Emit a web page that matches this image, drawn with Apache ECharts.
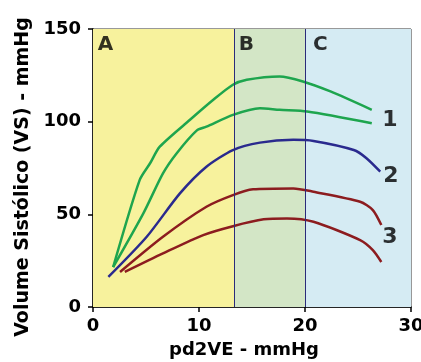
<!DOCTYPE html>
<html><head><meta charset="utf-8">
<script src="https://cdn.jsdelivr.net/npm/echarts@6/dist/echarts.min.js"></script>
<style>html,body{margin:0;padding:0;background:#fff}#c{width:421px;height:362px}</style>
</head><body><div id="c"></div>
<script>
const xTicks = [0, 10, 20, 30];
const yTicks = [0, 50, 100, 150];
const zones = [
  {name: 'A', from: 0, to: 13.3},
  {name: 'B', from: 13.3, to: 20},
  {name: 'C', from: 20, to: 30}
];
const green1 = [[1.9,21.5],[4.4,68.5],[5.4,77.7],[6.3,86.5],[9.15,101],[11.35,111.8],[13.2,119.9],[14.5,122.6],[17.6,124.4],[19.8,121.7],[22.4,116.3],[26.3,106.4]];
const green2 = [[1.9,21.5],[4.75,50.5],[6.6,72.1],[7.9,83],[9.8,95.3],[10.7,97.3],[13.2,103.7],[15.75,107.3],[17.6,106.4],[20.2,105.5],[26.3,99.2]];
const blue2 = [[1.45,16.2],[5.07,37.9],[8.2,61.3],[10.7,75.7],[13.2,84.7],[15.75,88.7],[18.9,90.2],[20.8,89.6],[24.6,84.7],[25.8,80.3],[27.1,73]];
const red3a = [[2.55,18.9],[6.6,37.9],[10.7,54.1],[13.2,60.4],[15.1,63.5],[18.9,64],[20.8,62.2],[25.2,56.8],[26.4,52.3],[27.2,44.2]];
const red3b = [[3.0,18.9],[6.6,28.9],[10.4,38.8],[13.2,43.6],[16.1,47.3],[18.3,47.8],[20.8,46],[25.2,36.1],[26.4,30.7],[27.2,24.3]];
const curveLabels = [[28.0,101,'1'],[28.1,70.7,'2'],[28.0,37.7,'3']];
const zoneLabels = [[0.45,141.5,'A'],[13.75,141.5,'B'],[20.75,141.5,'C']];

const zoneColors = ['#f7f29d','#d3e6c6','#d5ebf3'];
const font = '"DejaVu Sans"';
const chart = echarts.init(document.getElementById('c'));
function line(data, color){
  return {type:'line', data, showSymbol:false, smooth:0.25, lineStyle:{color, width:2.5}, z:3, animation:false};
}
chart.setOption({
  animation:false,
  grid:{left:93, right:10, top:29, bottom:55, containLabel:false, outerBoundsMode:'none', show:true, borderColor:'#333', borderWidth:1, backgroundColor:'transparent'},
  xAxis:{type:'value', min:0, max:30, interval:10,
    axisLine:{show:true, onZero:false, lineStyle:{color:'#000', width:1.5}},
    axisTick:{show:true, length:5, lineStyle:{color:'#000', width:1.5}},
    splitLine:{show:false},
    axisLabel:{color:'#000', fontWeight:'bold', fontSize:18, fontFamily:font, margin:10},
    name:'pd2VE - mmHg', nameLocation:'middle', nameGap:34,
    nameTextStyle:{color:'#000', fontWeight:'bold', fontSize:18, fontFamily:font, padding:[0,16,0,0]}},
  yAxis:{type:'value', min:0, max:150, interval:50,
    axisLine:{show:true, lineStyle:{color:'#000', width:1.5}},
    axisTick:{show:true, length:5, lineStyle:{color:'#000', width:1.5}},
    splitLine:{show:false},
    axisLabel:{color:'#000', fontWeight:'bold', fontSize:18, fontFamily:font, margin:12},
    name:'Volume Sistólico (VS) - mmHg', nameLocation:'middle', nameGap:55,
    nameTextStyle:{color:'#000', fontWeight:'bold', fontSize:19, fontFamily:font, padding:[0,18,0,0]}},
  series:[
    {type:'line', data:[], z:1, silent:true,
      markArea:{silent:true, data: zones.map((zn,i)=>[{xAxis:zn.from, itemStyle:{color:zoneColors[i]}},{xAxis:zn.to}])},
      markLine:{silent:true, symbol:'none', label:{show:false}, lineStyle:{color:'#2b2b7a', width:1, type:'solid'},
        data: zones.slice(1).map(zn=>({xAxis:zn.from}))}},
    line(green1,'#1ea54e'),
    line(green2,'#1ea54e'),
    line(blue2,'#2a2a8e'),
    line(red3a,'#8c1c1f'),
    line(red3b,'#8c1c1f'),
    {type:'scatter', data:curveLabels, symbolSize:0, z:5,
      label:{show:true, position:'inside', formatter:p=>p.data[2], color:'#000', fontWeight:'bold', fontSize:22, fontFamily:font}},
    {type:'scatter', data:zoneLabels, symbolSize:0, z:5,
      label:{show:true, position:'right', distance:0, formatter:p=>p.data[2], color:'#000', fontWeight:'bold', fontSize:20, fontFamily:font}}
  ]
});
</script></body></html>
